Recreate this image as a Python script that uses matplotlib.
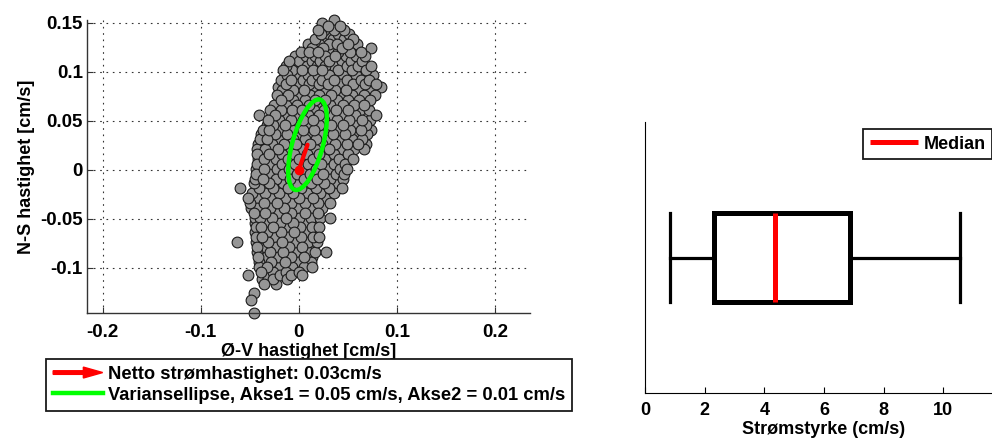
import matplotlib
matplotlib.use('Agg')
import matplotlib.pyplot as plt
from matplotlib.patches import Ellipse, FancyArrow
from matplotlib.lines import Line2D
from matplotlib.legend_handler import HandlerBase

# ---------------- data ----------------
# scatter of velocity components: rows of (N-S value, [E-W values])
scatter_rows = [
    (0.153, [0.036]),
    (0.150, [0.024]),
    (0.147, [0.030, 0.042]),
    (0.143, [0.019, 0.026, 0.036, 0.046]),
    (0.138, [0.023, 0.031, 0.040, 0.051]),
    (0.133, [0.016, 0.027, 0.035, 0.046, 0.055]),
    (0.128, [0.009, 0.020, 0.031, 0.039, 0.050, 0.059]),
    (0.124, [0.013, 0.025, 0.044, 0.074]),
    (0.120, [0.002, 0.010, 0.019, 0.033, 0.040, 0.052, 0.063]),
    (0.116, [-0.004, 0.007, 0.016, 0.027, 0.037, 0.048, 0.058, 0.067]),
    (0.111, [-0.010, 0.000, 0.013, 0.022, 0.031, 0.044, 0.053, 0.064]),
    (0.106, [-0.013, -0.004, 0.008, 0.018, 0.027, 0.036, 0.049, 0.060, 0.074]),
    (0.102, [-0.016, -0.007, 0.003, 0.014, 0.024, 0.040, 0.054, 0.068]),
    (0.097, [-0.012, -0.002, 0.009, 0.019, 0.031, 0.045, 0.058, 0.076]),
    (0.092, [-0.018, -0.008, 0.004, 0.013, 0.024, 0.036, 0.049, 0.063, 0.071]),
    (0.087, [-0.013, -0.001, 0.010, 0.020, 0.030, 0.042, 0.055, 0.067, 0.079]),
    (0.084, [-0.021, 0.084]),
    (0.081, [-0.017, -0.006, 0.005, 0.016, 0.027, 0.037, 0.048, 0.060, 0.072]),
    (0.076, [-0.022, -0.011, 0.000, 0.011, 0.021, 0.033, 0.044, 0.054, 0.066, 0.078]),
    (0.071, [-0.018, -0.006, 0.006, 0.016, 0.027, 0.039, 0.050, 0.061, 0.072]),
    (0.066, [-0.025, -0.013, -0.002, 0.010, 0.021, 0.032, 0.045, 0.056, 0.066]),
    (0.061, [-0.029, -0.018, -0.007, 0.003, 0.015, 0.026, 0.038, 0.050, 0.062, 0.071]),
    (0.056, [-0.041, -0.024, -0.012, 0.000, 0.009, 0.020, 0.032, 0.044, 0.057, 0.079]),
    (0.051, [-0.031, -0.020, -0.008, 0.004, 0.014, 0.026, 0.039, 0.051, 0.064, 0.072]),
    (0.046, [-0.033, -0.026, -0.014, -0.003, 0.008, 0.020, 0.033, 0.045, 0.058, 0.068]),
    (0.041, [-0.037, -0.030, -0.019, -0.007, 0.004, 0.015, 0.027, 0.040, 0.052, 0.063, 0.074]),
    (0.036, [-0.039, -0.024, -0.012, -0.001, 0.011, 0.022, 0.035, 0.047, 0.059, 0.069]),
    (0.031, [-0.040, -0.032, -0.019, -0.006, 0.006, 0.017, 0.029, 0.042, 0.054, 0.064]),
    (0.026, [-0.042, -0.027, -0.015, -0.003, 0.011, 0.024, 0.037, 0.049, 0.060, 0.068]),
    (0.021, [-0.043, -0.035, -0.021, -0.009, 0.003, 0.016, 0.031, 0.044, 0.056, 0.066]),
    (0.016, [-0.043, -0.030, -0.017, -0.005, 0.008, 0.021, 0.036, 0.050]),
    (0.011, [-0.042, -0.036, -0.023, -0.011, 0.000, 0.014, 0.027, 0.041, 0.055]),
    (0.006, [-0.043, -0.029, -0.017, -0.004, 0.009, 0.023, 0.036, 0.047]),
    (0.001, [-0.044, -0.036, -0.022, -0.010, 0.004, 0.017, 0.030, 0.042, 0.049]),
    (-0.004, [-0.044, -0.030, -0.016, -0.002, 0.011, 0.025, 0.038, 0.046]),
    (-0.009, [-0.045, -0.037, -0.023, -0.009, 0.005, 0.018, 0.032, 0.045]),
    (-0.014, [-0.046, -0.030, -0.016, -0.002, 0.012, 0.026, 0.039]),
    (-0.019, [-0.060, -0.041, -0.026, -0.011, 0.002, 0.017, 0.031, 0.044]),
    (-0.024, [-0.048, -0.035, -0.020, -0.006, 0.008, 0.022, 0.036]),
    (-0.029, [-0.052, -0.043, -0.028, -0.014, 0.000, 0.014, 0.027]),
    (-0.034, [-0.050, -0.036, -0.022, -0.008, 0.006, 0.019, 0.032]),
    (-0.039, [-0.049, -0.043, -0.029, -0.015, -0.001, 0.012, 0.024]),
    (-0.044, [-0.046, -0.035, -0.021, -0.008, 0.006, 0.019]),
    (-0.049, [-0.045, -0.040, -0.027, -0.013, 0.000, 0.012, 0.022, 0.032]),
    (-0.054, [-0.045, -0.033, -0.019, -0.006, 0.007, 0.018]),
    (-0.059, [-0.044, -0.039, -0.026, -0.012, 0.001, 0.013, 0.021]),
    (-0.064, [-0.045, -0.032, -0.018, -0.005, 0.008, 0.017]),
    (-0.069, [-0.044, -0.038, -0.025, -0.011, 0.002, 0.014, 0.020]),
    (-0.074, [-0.063, -0.044, -0.031, -0.017, -0.004, 0.009, 0.018]),
    (-0.079, [-0.043, -0.036, -0.023, -0.010, 0.003, 0.014]),
    (-0.084, [-0.043, -0.029, -0.016, -0.003, 0.009, 0.016, 0.028]),
    (-0.089, [-0.042, -0.034, -0.021, -0.008, 0.005, 0.013]),
    (-0.094, [-0.041, -0.028, -0.014, -0.001, 0.012]),
    (-0.099, [-0.041, -0.033, -0.020, -0.007, 0.005, 0.013]),
    (-0.104, [-0.039, -0.026, -0.013, 0.000]),
    (-0.107, [-0.052, -0.032, -0.019, -0.008, 0.003]),
    (-0.112, [-0.038, -0.026, -0.012]),
    (-0.117, [-0.036, -0.023]),
    (-0.126, [-0.046]),
    (-0.133, [-0.049]),
    (-0.1466, [-0.046]),
]
ew_all = [x for y, xs in scatter_rows for x in xs]
ns_all = [y for y, xs in scatter_rows for x in xs]
# interleave the drawing order so overlaps look like a measured time series
n_pts = len(ew_all)
order = sorted(range(n_pts), key=lambda i: (i * 97) % n_pts)
ew_vel = [ew_all[i] for i in order]
ns_vel = [ns_all[i] for i in order]

mean_vel = (0.0088, 0.0255)          # net current vector (E-W, N-S)
ellipse_axes = (0.0478, 0.0155)      # semi-major, semi-minor
ellipse_angle = 74.5                 # degrees

x_ticks = [-0.2, -0.1, 0, 0.1, 0.2]
x_tick_labels = ['-0.2', '-0.1', '0', '0.1', '0.2']
y_ticks = [-0.1, -0.05, 0, 0.05, 0.1, 0.15]
y_tick_labels = ['-0.1', '-0.05', '0', '0.05', '0.1', '0.15']

legend_labels = ['Netto strømhastighet: 0.03cm/s',
                 'Variansellipse, Akse1 = 0.05 cm/s, Akse2 = 0.01 cm/s']

# boxplot of current speed (cm/s)
box_whislo, box_q1, box_med, box_q3, box_whishi = 0.84, 2.32, 4.36, 6.87, 10.56
speed_ticks = [0, 2, 4, 6, 8, 10]

# ---------------- style ----------------
plt.rcParams['font.family'] = ['Liberation Sans', 'DejaVu Sans']
plt.rcParams['font.weight'] = 'bold'
plt.rcParams['font.size'] = 13

W, H = 992, 441
fig = plt.figure(figsize=(W / 100, H / 100), dpi=100)


def frac(l, t, r, b):
    return [l / W, 1 - b / H, (r - l) / W, (b - t) / H]


# ---------------- left: scatter ----------------
ax1 = fig.add_axes(frac(87.1, 20, 530.3, 313.3))
ax1.set_xlim(-0.2159, 0.2359)
ax1.set_ylim(-0.1466, 0.1528)
ax1.set_xticks(x_ticks)
ax1.set_xticklabels(x_tick_labels, fontsize=13.5)
ax1.set_yticks(y_ticks)
ax1.set_yticklabels(y_tick_labels, fontsize=13.5)
ax1.grid(True, linestyle=(0, (1.5, 4.2)), color='#333333', lw=0.8)
ax1.set_axisbelow(True)
for s in ['top', 'right']:
    ax1.spines[s].set_visible(False)
for s in ['left', 'bottom']:
    ax1.spines[s].set_color('#333333')
    ax1.spines[s].set_linewidth(1.0)
ax1.tick_params(direction='in', length=4, color='#333333', width=0.8)
ax1.tick_params(axis='x', pad=8)
ax1.tick_params(axis='y', pad=3)

ax1.scatter(ew_vel, ns_vel, s=60, facecolor='#969696', edgecolor='#1a1a1a',
            linewidths=0.8, zorder=2, clip_on=False)
ell = Ellipse(mean_vel, 2 * ellipse_axes[0], 2 * ellipse_axes[1], angle=ellipse_angle,
              fill=False, edgecolor=(0, 1, 0), lw=3.2, zorder=3)
ax1.add_patch(ell)
ax1.plot([0, mean_vel[0]], [0, mean_vel[1]], color='red', lw=3, zorder=4,
         solid_capstyle='round')
ax1.plot([0], [0], 'o', color='red', markersize=6, zorder=4)

ax1.set_xlabel('Ø-V hastighet [cm/s]', fontweight='bold', labelpad=1)
ax1.set_ylabel('N-S hastighet [cm/s]', fontweight='bold', labelpad=4)


class ArrowHandler(HandlerBase):
    def create_artists(self, legend, orig_handle, xdescent, ydescent,
                       width, height, fontsize, trans):
        y = height / 2 - ydescent
        arr = FancyArrow(-xdescent, y, width, 0, width=height * 0.28,
                         head_width=height * 0.85, head_length=width * 0.39,
                         length_includes_head=True, color='red', transform=trans)
        return [arr]


arrow_proxy = FancyArrow(0, 0, 1, 0, color='red')
ell_proxy = Line2D([], [], color=(0, 1, 0), lw=3.2)
leg1 = fig.legend([arrow_proxy, ell_proxy], legend_labels, loc='upper left',
                  bbox_to_anchor=(46.2 / W, 1 - 359 / H), borderaxespad=0,
                  handler_map={FancyArrow: ArrowHandler()},
                  frameon=True, fancybox=False, framealpha=1, edgecolor='#1a1a1a',
                  borderpad=0.38, labelspacing=0.2, handlelength=2.7,
                  handletextpad=0.3, prop={'weight': 'bold', 'size': 13.2})
leg1.get_frame().set_linewidth(1.3)

# ---------------- right: boxplot ----------------
ax2 = fig.add_axes(frac(645, 121.7, 645 + 12 * 29.83, 393.3))
stats = [dict(whislo=box_whislo, q1=box_q1, med=box_med, q3=box_q3,
              whishi=box_whishi, fliers=[])]
bkw = dict(positions=[1], widths=0.33, capwidths=0.33, showfliers=False,
           boxprops=dict(color='k', lw=3.6, solid_joinstyle='miter'),
           whiskerprops=dict(color='k', lw=2.3),
           capprops=dict(color='k', lw=2.3),
           medianprops=dict(color='red', lw=3.6))
try:
    bp = ax2.bxp(stats, orientation='horizontal', **bkw)
except TypeError:
    bp = ax2.bxp(stats, vert=False, **bkw)
ax2.set_ylim(0.5, 1.5)
ax2.set_xlim(0, 12)
ax2.set_yticks([])
ax2.set_xticks(speed_ticks)
ax2.set_xticklabels([str(t) for t in speed_ticks])
for s in ['top', 'right']:
    ax2.spines[s].set_visible(False)
ax2.tick_params(direction='in', length=4, width=0.8, pad=6)
ax2.set_xlabel('Strømstyrke (cm/s)', fontweight='bold', labelpad=2)

leg2 = fig.legend([bp['medians'][0]], ['Median'], loc='upper left',
                  bbox_to_anchor=(863.3 / W, 1 - 129.3 / H), borderaxespad=0,
                  frameon=True, fancybox=False, framealpha=1, edgecolor='#1a1a1a',
                  borderpad=0.35, handlelength=2.7, handletextpad=0.3,
                  prop={'weight': 'bold', 'size': 13})
leg2.get_frame().set_linewidth(1.3)

fig.savefig('out.png', dpi=100)
